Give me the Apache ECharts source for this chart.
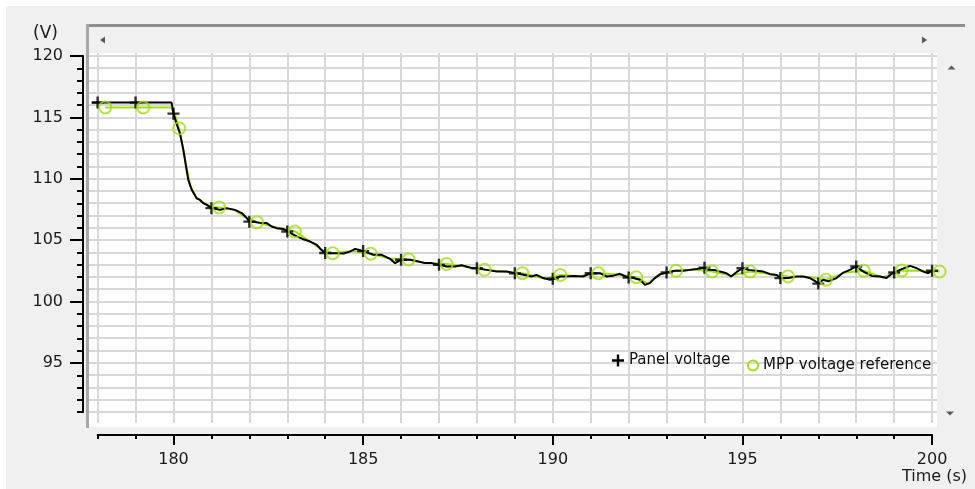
<!DOCTYPE html>
<html>
<head>
<meta charset="utf-8">
<title>Panel voltage / MPP voltage reference</title>
<script src="https://cdn.jsdelivr.net/npm/echarts@6.0.0/dist/echarts.min.js"></script>
<style>
  html, body { margin: 0; padding: 0; background: #f0f0f0; }
  #main { width: 975px; height: 489px; }
</style>
</head>
<body>
<div id="main"></div>
<script>
// panel voltage trace (s, V)
var panelTime = [177.85, 178, 179, 179.95, 180, 180.1, 180.17, 180.26, 180.33, 180.39, 180.48, 180.61, 180.7, 180.79, 180.88,
  181, 181.23, 181.4, 181.62, 181.8, 181.93, 182, 182.1, 182.33, 182.46, 182.59, 182.72, 182.9,
  183, 183.25, 183.42, 183.6, 183.78, 183.9, 184, 184.13, 184.3, 184.48, 184.65, 184.79, 184.9,
  185, 185.27, 185.49, 185.71, 185.84, 186, 186.24, 186.45, 186.63, 186.81,
  187, 187.2, 187.42, 187.6, 187.86, 188, 188.26, 188.52, 188.78, 189, 189.2, 189.44, 189.57, 189.75, 189.93,
  190, 190.2, 190.37, 190.54, 190.8, 191, 191.24, 191.42, 191.6, 191.77, 191.92,
  192, 192.12, 192.3, 192.43, 192.56, 192.69, 192.83, 193, 193.22, 193.44, 193.62, 193.79,
  194, 194.1, 194.28, 194.41, 194.58, 194.7, 194.85, 195, 195.15, 195.38, 195.55, 195.73, 195.9,
  196, 196.21, 196.43, 196.6, 196.78, 196.93, 197, 197.13, 197.26, 197.48, 197.66, 197.83,
  198, 198.19, 198.41, 198.63, 198.8, 198.95, 199, 199.15, 199.42, 199.59, 199.77, 199.9, 200];
var panelVolt = [116.2, 116.2, 116.2, 116.2, 115.3, 114.3, 113.7, 112.35, 111.0, 109.9, 109.1, 108.4, 108.27, 108.0, 107.87,
  107.6, 107.46, 107.6, 107.46, 107.2, 106.8, 106.5, 106.5, 106.38, 106.38, 106.1, 105.97, 105.9,
  105.7, 105.3, 105.07, 104.88, 104.6, 104.2, 103.95, 103.93, 103.93, 103.9, 104.06, 104.28, 104.2,
  104.1, 103.8, 103.8, 103.47, 103.12, 103.39, 103.39, 103.25, 103.12, 103.12,
  102.98, 102.84, 102.84, 102.95, 102.71, 102.71, 102.57, 102.43, 102.43, 102.3, 102.2, 102.03, 102.16, 101.9, 101.76,
  101.85, 102.03, 102.03, 102.08, 102.03, 102.3, 102.3, 102.03, 102.1, 102.25, 102.03,
  101.95, 101.9, 101.76, 101.35, 101.49, 101.9, 102.2, 102.35, 102.5, 102.49, 102.57, 102.65,
  102.75, 102.57, 102.55, 102.43, 102.3, 102.03, 102.4, 102.7, 102.57, 102.49, 102.43, 102.22, 102.16,
  101.9, 101.9, 102.03, 102.03, 101.9, 101.63, 101.45, 101.76, 101.63, 101.9, 102.35, 102.57,
  102.85, 102.43, 102.08, 102.03, 101.9, 102.3, 102.35, 102.57, 102.9, 102.71, 102.43, 102.3, 102.5];

// MPP voltage reference (s, V)
var mppTime = [178.2, 179.2, 179.95, 180.05, 180.15, 180.25, 180.35, 180.45, 180.6, 180.8, 181.0, 181.2, 181.6, 181.9,
  182.2, 182.6, 182.9, 183.2, 183.6, 183.9, 184.2, 184.7, 185.2, 185.7, 186.2, 186.7, 187.2, 187.7,
  188.2, 188.7, 189.2, 189.8, 190.2, 190.7, 191.2, 191.7, 192.2, 192.5, 192.8, 193.25, 193.7,
  194.2, 194.7, 195.2, 195.7, 196.2, 196.7, 197.2, 197.7, 198.2, 198.7, 199.2, 199.7, 200.2];
var mppVolt = [115.8, 115.8, 115.8, 115.1, 114.1, 112.5, 110.8, 109.4, 108.5, 108.0, 107.7, 107.65, 107.45, 106.85,
  106.45, 106.1, 105.9, 105.7, 104.9, 104.2, 103.93, 104.1, 103.88, 103.5, 103.42, 103.12, 103.05, 102.85,
  102.57, 102.43, 102.3, 101.85, 102.15, 102.05, 102.3, 102.2, 101.97, 101.45, 102.2, 102.5, 102.6,
  102.43, 102.1, 102.43, 102.25, 102.03, 102.0, 101.76, 102.35, 102.5, 101.95, 102.52, 102.5, 102.43];
var mppCircleTime = [178.2, 179.2, 180.15, 181.2, 182.2, 183.2, 184.2, 185.2, 186.2, 187.2, 188.2, 189.2,
  190.2, 191.2, 192.2, 193.25, 194.2, 195.2, 196.2, 197.2, 198.2, 199.2, 200.2];

var GREEN = '#9ee010';
var FONT = 'DejaVu Sans';
var PLUS = 'path://M4.8,0H7.2V4.8H12V7.2H7.2V12H4.8V7.2H0V4.8H4.8Z';

var panelLine = panelTime.map(function (t, i) { return [t, panelVolt[i]]; });
var panelMarks = panelLine.filter(function (p) { return Number.isInteger(p[0]); });
var mppLine = mppTime.map(function (t, i) { return [t, mppVolt[i]]; });
var mppMarks = mppCircleTime.map(function (t) { return [t, mppVolt[mppTime.indexOf(t)]]; });

var myChart = echarts.init(document.getElementById('main'));

var gray = '#f0f0f0';
function rect(x, y, w, h, fill, z) {
  return { type: 'rect', z: z || 1, silent: true, shape: { x: x, y: y, width: w, height: h }, style: { fill: fill } };
}
function tri(pts) {
  return { type: 'polygon', z: 1.5, silent: true, shape: { points: pts }, style: { fill: '#5a5a5a' } };
}

myChart.setOption({
  animation: false,
  backgroundColor: gray,
  grid: [
    // plot area (177..201 s, 89..121 V)
    { left: 59.7, top: 43.7, width: 910.3, height: 392.7, show: true, backgroundColor: '#fff', borderWidth: 0, outerBoundsMode: 'none' },
    // axis line + minor ticks (178..200 s, 91..120 V)
    { left: 97.64, top: 56, width: 834.5, height: 356.1, outerBoundsMode: 'none' },
    // major ticks + labels (180..200 s, 95..120 V)
    { left: 173.5, top: 56, width: 758.6, height: 307, outerBoundsMode: 'none' }
  ],
  xAxis: [
    { gridIndex: 0, type: 'value', min: 177, max: 201, interval: 1,
      axisLine: { show: false }, axisTick: { show: false }, axisLabel: { show: false },
      splitLine: { show: true, lineStyle: { color: '#d8d8d8', width: 2 } } },
    { gridIndex: 1, type: 'value', min: 178, max: 200, interval: 1, offset: 23, z: 3,
      axisLine: { show: true, lineStyle: { color: '#000', width: 2 } },
      axisTick: { show: true, length: 4, lineStyle: { color: '#000', width: 2 } },
      axisLabel: { show: false }, splitLine: { show: false } },
    { gridIndex: 2, type: 'value', min: 180, max: 200, interval: 5, offset: 72.1, z: 3,
      axisLine: { show: false },
      axisTick: { show: true, length: 10, lineStyle: { color: '#000', width: 2 } },
      axisLabel: { show: true, margin: 17, color: '#1a1a1a', fontFamily: FONT, fontSize: 16 },
      splitLine: { show: false } }
  ],
  yAxis: [
    { gridIndex: 0, type: 'value', min: 89, max: 121, interval: 1,
      axisLine: { show: false }, axisTick: { show: false }, axisLabel: { show: false },
      splitLine: { show: true, lineStyle: { color: '#d8d8d8', width: 2 } } },
    { gridIndex: 1, type: 'value', min: 91, max: 120, interval: 1, offset: 14.6, z: 3,
      axisLine: { show: true, lineStyle: { color: '#000', width: 2 } },
      axisTick: { show: true, length: 6, lineStyle: { color: '#000', width: 2 } },
      axisLabel: { show: false }, splitLine: { show: false } },
    { gridIndex: 2, type: 'value', min: 95, max: 120, interval: 5, offset: 90.5, z: 3,
      axisLine: { show: false },
      axisTick: { show: true, length: 13, lineStyle: { color: '#000', width: 2 } },
      axisLabel: { show: true, margin: 20, color: '#1a1a1a', fontFamily: FONT, fontSize: 16 },
      splitLine: { show: false } }
  ],
  legend: [
    { data: [{ name: 'Panel voltage', icon: PLUS, itemStyle: { color: '#000' } }],
      left: 612, top: 353, padding: 0, itemWidth: 12, itemHeight: 12, selectedMode: false,
      textStyle: { color: '#111', fontFamily: FONT, fontSize: 15 } },
    { data: [{ name: 'MPP voltage reference', icon: 'circle',
        itemStyle: { color: 'transparent', borderColor: GREEN, borderWidth: 2 } }],
      left: 747, top: 358, padding: 0, itemWidth: 10, itemHeight: 10, selectedMode: false,
      textStyle: { color: '#111', fontFamily: FONT, fontSize: 15 } }
  ],
  graphic: [
    // masks around the white plot area
    rect(55, 40, 34, 400, gray),
    rect(937, 40, 38, 400, gray),
    rect(55, 40, 920, 13, gray),
    rect(89, 423, 848, 4, '#fff'),
    rect(55, 427, 920, 13, gray),
    // window edges
    rect(0, 0, 975, 6, '#fff'),
    rect(0, 0, 6, 489, '#fff'),
    rect(86, 24, 879, 3, '#8f8f8f', 1.5),
    rect(86, 24, 3, 404, '#a8a8a8', 1.5),
    // scroll arrows
    tri([[100, 40], [105, 36.5], [105, 43.5]]),
    tri([[927, 40], [922, 36.5], [922, 43.5]]),
    tri([[951.5, 65.5], [947.5, 69.5], [955.5, 69.5]]),
    tri([[946, 411.5], [954, 411.5], [950, 415.5]]),
    // axis titles
    { type: 'text', z: 3, left: 33, top: 25, style: { text: '(V)', fill: '#1a1a1a', font: '17px "DejaVu Sans"' } },
    { type: 'text', z: 3, right: 8, top: 469, style: { text: 'Time (s)', fill: '#1a1a1a', font: '16px "DejaVu Sans"' } }
  ],
  series: [
    { name: 'MPP voltage reference', type: 'line', xAxisIndex: 0, yAxisIndex: 0, z: 2,
      data: mppLine, showSymbol: false, symbol: 'none',
      lineStyle: { color: GREEN, width: 2 }, itemStyle: { color: GREEN } },
    { name: 'Panel voltage', type: 'line', xAxisIndex: 0, yAxisIndex: 0, z: 3,
      data: panelLine, showSymbol: false, symbol: 'none',
      lineStyle: { color: '#000', width: 2 }, itemStyle: { color: '#000' } },
    { name: 'Panel voltage', type: 'scatter', xAxisIndex: 0, yAxisIndex: 0, z: 4,
      data: panelMarks, symbol: PLUS, symbolSize: 12, itemStyle: { color: '#000' } },
    { name: 'MPP voltage reference', type: 'scatter', xAxisIndex: 0, yAxisIndex: 0, z: 5,
      data: mppMarks, symbol: 'circle', symbolSize: 12,
      itemStyle: { color: 'transparent', borderColor: GREEN, borderWidth: 2 } }
  ]
});
</script>
</body>
</html>
